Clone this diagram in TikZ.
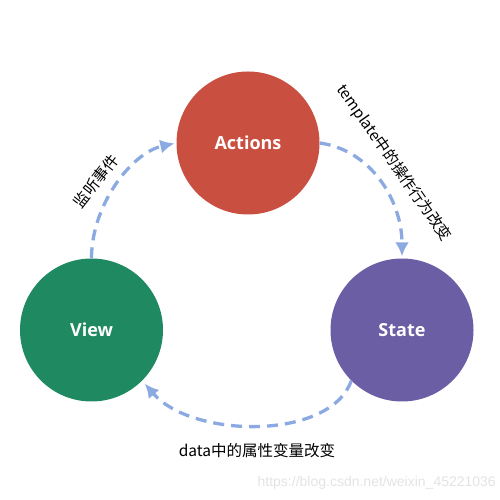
\documentclass[tikz,border=0pt]{standalone}
\usepackage{fontspec}
\newfontfamily\circfont{Open Sans}
\newfontfamily\cjk{Noto Sans CJK SC}
\newfontfamily\markfont{Liberation Sans}
\usetikzlibrary{arrows.meta}
\definecolor{actionsred}{HTML}{C94F40}
\definecolor{viewgreen}{HTML}{1F8A62}
\definecolor{statepurple}{HTML}{6C5EA5}
\definecolor{flowblue}{HTML}{8CAAE2}

\begin{document}
\begin{tikzpicture}[x=1pt, y=1pt,
    bubble/.style={circle, minimum size=143pt, inner sep=0pt,
        text=white, font=\circfont\bfseries\fontsize{18}{20}\selectfont},
    flow/.style={flowblue, line width=3.3pt, dash pattern=on 11pt off 7pt,
        -{Latex[length=14pt, width=14pt]}, shorten >=2pt},
    note/.style={font=\cjk\fontsize{15.5}{17}\selectfont, inner sep=0pt}]
\useasboundingbox (0,0) rectangle (500,500);
% States of the cycle
\node[bubble, fill=actionsred] (actions) at (248,357) {Actions};
\node[bubble, fill=viewgreen] (view) at (91.5,170) {View};
\node[bubble, fill=statepurple] (state) at (402,170) {State};
% Dashed connectors
\draw[flow] (view.north) .. controls +(0,53) and +(-45,-10) .. (actions.west);
\draw[flow] (actions.east) .. controls +(51,-7) and +(0,58) .. (state.north);
\draw[flow, shorten >=4pt] (state.225) .. controls +(-21,-60) and +(50,-58) .. (view.-45);
% Labels
\node[note, rotate=52] (listen) at (96,319) {监听事件};
\node[note, rotate=-55, font=\cjk\fontsize{15.3}{17}\selectfont] (tmpl) at (394,337) {template中的操作行为改变};
\node[note] (data) at (257,49) {data中的属性变量改变};
% Watermark
\node[anchor=east, inner sep=0pt, text=gray!22, font=\markfont\fontsize{14}{16}\selectfont] (mark) at (496,17) {https://blog.csdn.net/weixin\_45221036};
\end{tikzpicture}
\end{document}
